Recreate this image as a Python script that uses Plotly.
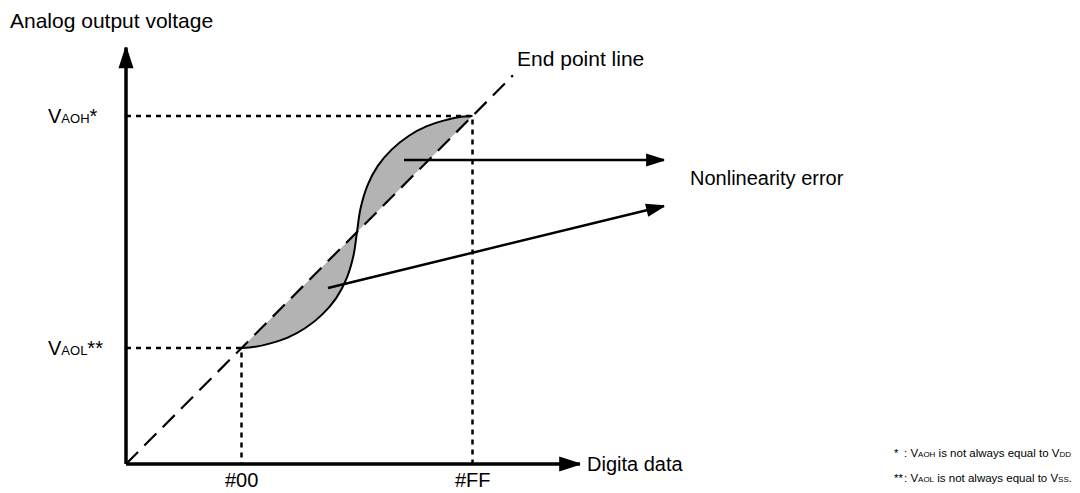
import plotly.graph_objects as go

# ---- data (abstract units: origin 0, #00 -> 1, #FF -> 3; VAOL -> 1, VAOH -> 3)
x_ticks = [1, 3]
x_tick_labels = ["#00", "#FF"]
y_ticks = [1, 3]
y_tick_labels = ["V<span style='font-size:13px'>AOL</span>**", "V<span style='font-size:13px'>AOH</span>*"]

# actual transfer curve (S-shaped)
curve_x = [1.0, 1.12, 1.25, 1.40, 1.55, 1.70, 1.82, 1.91, 1.97, 2.0,
           2.03, 2.09, 2.18, 2.30, 2.45, 2.60, 2.75, 2.88, 3.0]
curve_y = [1.0, 1.01, 1.04, 1.09, 1.17, 1.29, 1.43, 1.60, 1.80, 2.0,
           2.20, 2.40, 2.57, 2.71, 2.83, 2.91, 2.96, 2.99, 3.0]

# end point line
end_line_x = [0.0, 3.35]
end_line_y = [0.0, 3.35]

# axis extents
x_axis_end = 3.93
y_axis_end = 3.59

# ---- pixel mapping for layout (page body has an 8px margin)
OFF = 8
W, H = 1080 - OFF, 493 - OFF
X0, SX = 126.0 - OFF, 115.5
Y0, SY = 464.0 - OFF, 116.0
xr = [(0 - X0) / SX, (W - X0) / SX]
yr = [(Y0 - H) / SY, Y0 / SY]

def px(p):
    return (p - OFF - X0) / SX

def py(p):
    return (Y0 - (p - OFF)) / SY

FONT = "Liberation Sans, Arial, sans-serif"
FS = 20

fig = go.Figure()

# shaded nonlinearity region: base = end point line between #00 and #FF
fig.add_trace(go.Scatter(x=[x_ticks[0], x_ticks[1]], y=[y_ticks[0], y_ticks[1]],
                         mode="lines", line=dict(width=0, color="rgba(0,0,0,0)"),
                         hoverinfo="skip", showlegend=False))
fig.add_trace(go.Scatter(x=curve_x, y=curve_y, mode="lines", fill="tonexty",
                         fillcolor="#b3b3b3", line=dict(width=0, shape="spline"),
                         hoverinfo="skip", showlegend=False))

# dotted guide lines
for xv, yv in zip(x_ticks, y_ticks):
    fig.add_trace(go.Scatter(x=[0, xv, xv], y=[yv, yv, 0], mode="lines",
                             line=dict(color="black", width=2.5, dash="5px,5px"),
                             hoverinfo="skip", showlegend=False))

# end point line (dashed)
fig.add_trace(go.Scatter(x=end_line_x, y=end_line_y, mode="lines",
                         line=dict(color="black", width=2.2, dash="17px,9px"),
                         hoverinfo="skip", showlegend=False))

# curve outline
fig.add_trace(go.Scatter(x=curve_x, y=curve_y, mode="lines",
                         line=dict(color="black", width=2, shape="spline"),
                         hoverinfo="skip", showlegend=False))

def arrow(xs, ys, lw, head):
    fig.add_trace(go.Scatter(x=xs, y=ys, mode="lines",
                             line=dict(color="#000000", width=lw),
                             hoverinfo="skip", showlegend=False))
    fig.add_trace(go.Scatter(x=xs, y=ys, mode="markers",
                             marker=dict(symbol=["circle", "arrow"], size=[0, head],
                                         color="#000000", opacity=1,
                                         angleref="previous",
                                         line=dict(width=1.5, color="#000000")),
                             hoverinfo="skip", showlegend=False))

# axes with arrowheads
arrow([0, 0], [0, y_axis_end], 3.5, 21)
arrow([0, x_axis_end], [0, 0], 3.5, 21)

# nonlinearity error pointers
arrow([px(404), px(664)], [py(160), py(160)], 2.5, 18)
arrow([px(328), px(664)], [py(288), py(206)], 2.5, 18)

ann = []
def text(t, x, y, xanchor="left", size=FS, family=FONT, xref="x", yref="y", yanchor="middle"):
    ann.append(dict(text=t, x=x, y=y, xref=xref, yref=yref, xanchor=xanchor,
                    yanchor=yanchor, showarrow=False,
                    font=dict(family=family, size=size, color="black")))

text("Analog output voltage", 0, 1 - (20 - OFF) / H, xref="paper", yref="paper", size=21)
for yv, lab in zip(y_ticks, y_tick_labels):
    text(lab, px(46), yv)
for xv, lab in zip(x_ticks, x_tick_labels):
    text(lab, xv, 0, xanchor="center", yref="paper", yanchor="bottom")
text("Digita data", px(585), 0)
text("End point line", px(515), py(58), size=21)
text("Nonlinearity error", px(688), py(178))
FN = 11.5
SUB = "<span style='font-size:8px'>{}</span>"
text("*", px(892), py(453), size=FN)
text("**", px(892), py(478), size=FN)
text(": V" + SUB.format("AOH") + " is not always equal to V" + SUB.format("DD") + ".",
     px(902), py(453), size=FN)
text(": V" + SUB.format("AOL") + " is not always equal to V" + SUB.format("SS") + ".",
     px(902), py(478), size=FN)

fig.update_layout(
    width=W, height=H,
    margin=dict(l=0, r=0, t=0, b=0),
    paper_bgcolor="white", plot_bgcolor="white",
    xaxis=dict(range=xr, visible=False, fixedrange=True),
    yaxis=dict(range=yr, visible=False, fixedrange=True),
    annotations=ann,
    showlegend=False,
)

fig.write_html("out.html")
